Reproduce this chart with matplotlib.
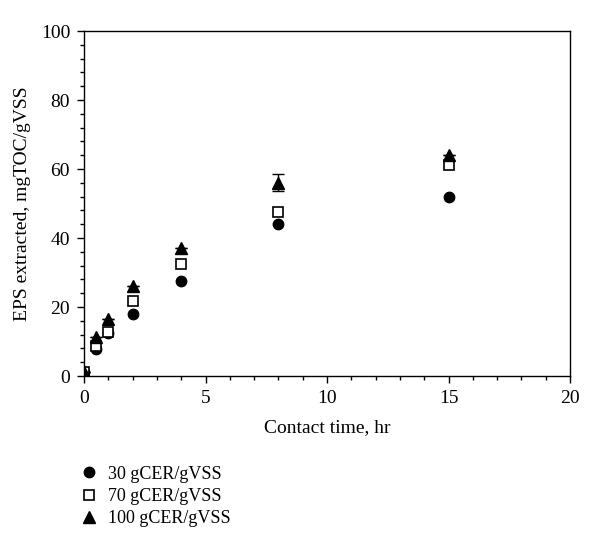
import matplotlib
matplotlib.use('Agg')
import matplotlib.pyplot as plt
from matplotlib.ticker import MultipleLocator

plt.rcParams['font.family'] = 'Liberation Serif'

# contact time (hr)
time_hr = [0, 0.5, 1, 2, 4, 8, 15]

# EPS extracted, mgTOC/gVSS
eps_30 = [1.2, 7.8, 12.6, 18.0, 27.5, 44.0, 51.8]
eps_70 = [1.2, 8.6, 12.9, 21.8, 32.6, 47.5, 61.2]
eps_100 = [1.2, 11.2, 16.6, 26.2, 37.0, 56.0, 64.2]
err_100 = [0, 0, 0, 0, 0, 2.5, 0]

labels = ['30 gCER/gVSS', '70 gCER/gVSS', '100 gCER/gVSS']

fig = plt.figure(figsize=(6.0, 5.49), dpi=100)
ax = fig.add_axes([0.14, 0.315, 0.81, 0.6285])

h1, = ax.plot(time_hr, eps_30, 'o', color='black', markersize=7.5, linestyle='none')
h2, = ax.plot(time_hr, eps_70, 's', markerfacecolor='white', markeredgecolor='black',
              markeredgewidth=1.2, markersize=7.5, linestyle='none')
h3 = ax.errorbar(time_hr, eps_100, yerr=err_100, fmt='^', color='black',
                 markersize=8.5, capsize=4, elinewidth=1, capthick=1)

ax.set_xlim(0, 20)
ax.set_ylim(0, 100)
ax.xaxis.set_major_locator(MultipleLocator(5))
ax.xaxis.set_minor_locator(MultipleLocator(1))
ax.yaxis.set_major_locator(MultipleLocator(20))
ax.yaxis.set_minor_locator(MultipleLocator(4))
ax.tick_params(which='major', direction='out', length=5, width=1, labelsize=14, pad=5)
ax.tick_params(which='minor', direction='out', length=3, width=1)
for s in ax.spines.values():
    s.set_linewidth(1)

ax.set_xlabel('Contact time, hr', fontsize=14, labelpad=9)
ax.set_ylabel('EPS extracted, mgTOC/gVSS', fontsize=14, labelpad=7)

fig.legend([h1, h2, h3[0]], labels, loc='upper left',
           bbox_to_anchor=(0.118, 0.165), frameon=False, fontsize=13,
           handletextpad=0.45, labelspacing=0.3, handlelength=1.2,
           borderaxespad=0)

fig.savefig('out.png', dpi=100)
